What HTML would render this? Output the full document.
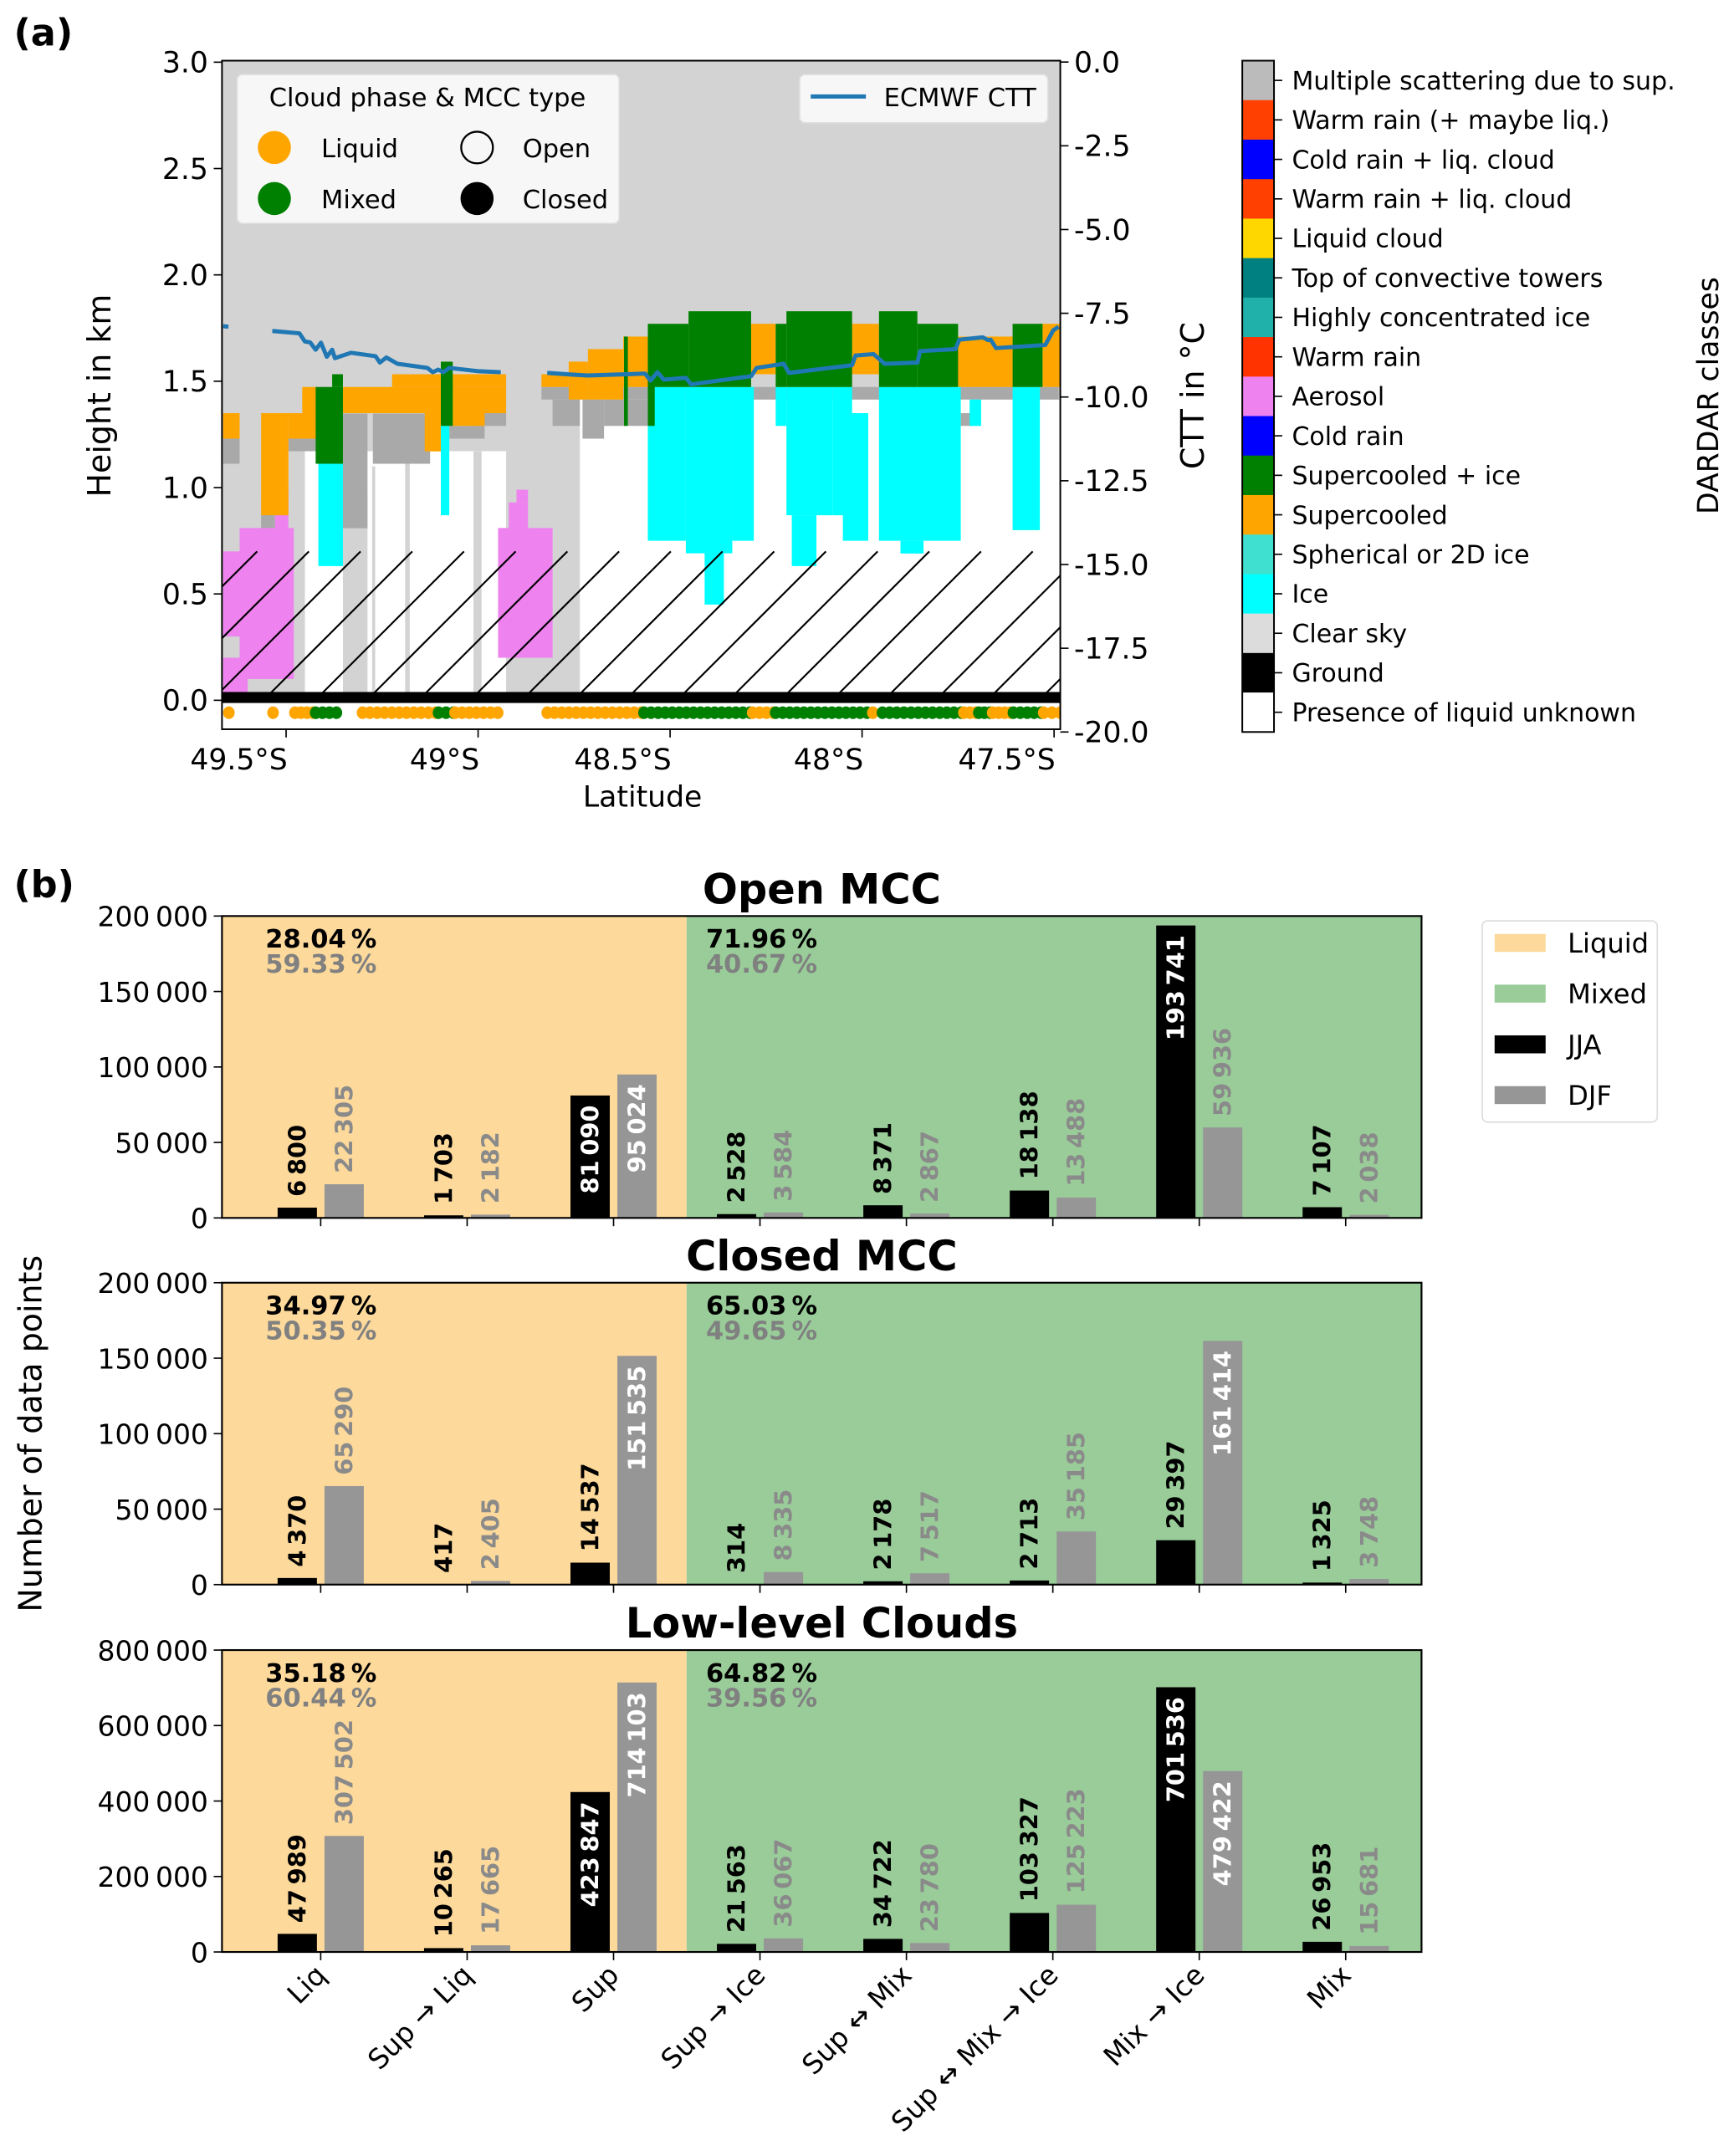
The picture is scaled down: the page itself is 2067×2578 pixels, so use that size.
<!DOCTYPE html>
<html><head><meta charset="utf-8">
<style>
html,body{margin:0;padding:0;background:#fff;}
svg{display:block;font-family:"DejaVu Sans","Liberation Sans",sans-serif;}
</style></head>
<body>
<svg id="fig" xmlns="http://www.w3.org/2000/svg" width="2067" height="2578" viewBox="0 0 1254 1564">
<rect x="0" y="0" width="1254" height="1564" fill="#fff"/>
<text x="10" y="33" font-size="27" font-weight="bold">(a)</text>
<text x="10" y="651" font-size="27" font-weight="bold">(b)</text>
<defs>
<clipPath id="clipA"><rect x="161" y="44" width="608" height="485"/></clipPath>
</defs>
<g id="panelA"></g>
<g id="panelB"></g>
</svg>
<script>
// ---------- Panel (a) data ----------
const latTicks = [49.5, 49.0, 48.5, 48.0, 47.5];
const latTickLabels = ["49.5°S", "49°S", "48.5°S", "48°S", "47.5°S"];
const heightTicks = [0.0, 0.5, 1.0, 1.5, 2.0, 2.5, 3.0];
const cttTicks = [0.0, -2.5, -5.0, -7.5, -10.0, -12.5, -15.0, -17.5, -20.0];
// rects: [lat0, lat1, h0, h1]
const whiteCells = [[49.451,48.927,0,1.171],[48.735,47.455,0,1.414]];
const clearCells = [[49.352,49.288,0,0.98],[49.276,49.268,0,1.1],[49.19,49.178,0,1.17],[49.012,48.991,0,1.17]];
const msCells = [[49.664,49.621,1.112,1.23],[49.565,49.529,0.809,0.934],[49.494,49.416,1.171,1.23],[49.352,49.288,0.809,1.348],[49.274,49.125,1.112,1.348],[49.075,48.983,1.23,1.29],[49.019,48.927,1.29,1.414],[48.835,47.488,1.414,1.473],[48.806,48.735,1.29,1.414],[48.728,48.672,1.23,1.414],[48.672,48.558,1.29,1.414],[47.743,47.71,1.29,1.35]];
const supCells = [[49.664,49.621,1.23,1.35],[49.565,49.494,0.87,1.35],[49.494,49.416,1.23,1.35],[49.458,49.416,1.35,1.473],[49.352,48.927,1.35,1.473],[49.224,48.927,1.473,1.533],[49.139,49.097,1.17,1.35],[49.075,48.983,1.29,1.35],[48.835,48.764,1.473,1.533],[48.764,48.714,1.414,1.592],[48.714,48.622,1.414,1.651],[48.622,48.544,1.473,1.71],[48.289,48.225,1.533,1.77],[48.026,47.956,1.533,1.77],[47.750,47.608,1.473,1.71],[47.530,47.455,1.473,1.77]];
const mixCells = [[49.423,49.352,1.112,1.473],[49.38,49.352,1.473,1.533],[49.097,49.066,1.29,1.592],[48.558,48.452,1.473,1.77],[48.452,48.289,1.473,1.829],[48.558,48.54,1.29,1.533],[48.225,48.197,1.473,1.77],[48.197,48.026,1.473,1.829],[47.956,47.856,1.473,1.829],[47.856,47.750,1.473,1.77],[47.608,47.530,1.473,1.77],[48.62,48.61,1.29,1.71]];
const iceCells = [[49.416,49.352,0.631,1.112],[49.097,49.075,0.87,1.29],[48.558,48.459,0.75,1.473],[48.459,48.338,0.691,1.473],[48.41,48.36,0.45,0.7],[48.338,48.282,0.75,1.473],[48.225,48.197,1.29,1.473],[48.197,48.076,0.87,1.473],[48.183,48.119,0.631,0.87],[48.076,48.026,0.87,1.473],[48.05,47.984,0.75,1.35],[47.956,47.743,0.75,1.473],[47.90,47.84,0.69,0.75],[47.72,47.69,1.29,1.414],[47.608,47.537,0.8,1.473]];
const aerosolCells = [[49.621,49.48,0.1,0.81],[49.664,49.621,0.3,0.7],[49.529,49.494,0.81,0.99],[49.664,49.6,0,0.2],[48.948,48.806,0.2,0.81],[48.92,48.870,0.81,0.93],[48.90,48.87,0.93,0.99]];
const cttLat1 = [49.664,49.650];
const cttVal1 = [-7.886,-7.90];
const cttLat2 = [49.536,49.465,49.451,49.437,49.423,49.409,49.394,49.380,49.373,49.331,49.267,49.256,49.239,49.210,49.132,49.118,49.104,49.090,49.075,48.998,48.941];
const cttVal2 = [-8.03,-8.10,-8.34,-8.37,-8.59,-8.38,-8.80,-8.59,-8.84,-8.68,-8.78,-8.97,-8.82,-9.01,-9.13,-9.26,-9.18,-9.26,-9.13,-9.23,-9.26];
const cttLat3 = [48.820,48.757,48.714,48.565,48.551,48.533,48.516,48.459,48.445,48.289,48.275,48.204,48.190,48.026,48.017,47.970,47.941,47.856,47.849,47.757,47.747,47.686,47.672,47.665,47.651,47.523,47.502,47.488];
const cttVal3 = [-9.28,-9.33,-9.36,-9.30,-9.51,-9.26,-9.48,-9.43,-9.62,-9.38,-9.13,-9.01,-9.28,-9.05,-8.76,-8.72,-9.01,-8.97,-8.63,-8.57,-8.29,-8.22,-8.30,-8.29,-8.54,-8.45,-8.01,-7.90];
// dot segments: [lat0, lat1, phase] phase 0 liquid, 1 mixed
const dotSegs = [[49.649,49.649,0],[49.534,49.534,0],[49.477,49.430,0],[49.423,49.369,1],[49.301,49.110,0],[49.103,49.064,1],[49.060,48.949,0],[48.820,48.575,0],[48.568,48.292,1],[48.285,48.231,0],[48.225,47.987,1],[47.972,47.972,0],[47.947,47.742,1],[47.735,47.703,0],[47.696,47.667,1],[47.660,47.613,0],[47.606,47.534,1],[47.527,47.484,0]];
const classNames = ["Multiple scattering due to sup.","Warm rain (+ maybe liq.)","Cold rain + liq. cloud","Warm rain + liq. cloud","Liquid cloud","Top of convective towers","Highly concentrated ice","Warm rain","Aerosol","Cold rain","Supercooled + ice","Supercooled","Spherical or 2D ice","Ice","Clear sky","Ground","Presence of liquid unknown"];
const classColors = ["#bbbbbb","#ff4000","#0000ff","#ff4000","#ffd700","#008080","#20b2aa","#ff3300","#ee82ee","#0000ff","#008000","#ffa500","#40e0d0","#00ffff","#dcdcdc","#000000","#ffffff"];

// ---------- Panel (b) data ----------
const categories = ["Liq","Sup → Liq","Sup","Sup → Ice","Sup ↔ Mix","Sup ↔ Mix → Ice","Mix → Ice","Mix"];
const openJJA = [6800,1703,81090,2528,8371,18138,193741,7107];
const openDJF = [22305,2182,95024,3584,2867,13488,59936,2038];
const closedJJA = [4370,417,14537,314,2178,2713,29397,1325];
const closedDJF = [65290,2405,151535,8335,7517,35185,161414,3748];
const lowJJA = [47989,10265,423847,21563,34722,103327,701536,26953];
const lowDJF = [307502,17665,714103,36067,23780,125223,479422,15681];
const openPct = ["28.04\u2009%","59.33\u2009%","71.96\u2009%","40.67\u2009%"];
const closedPct = ["34.97\u2009%","50.35\u2009%","65.03\u2009%","49.65\u2009%"];
const lowPct = ["35.18\u2009%","60.44\u2009%","64.82\u2009%","39.56\u2009%"];
const ticksSmall = [0,50000,100000,150000,200000];
const ticksLow = [0,200000,400000,600000,800000];

const NS="http://www.w3.org/2000/svg";
function el(tag, attrs, parent){const e=document.createElementNS(NS,tag);for(const k in attrs)e.setAttribute(k,attrs[k]);parent.appendChild(e);return e;}
function fmt(v){return String(v).replace(/\B(?=(\d{3})+(?!\d))/g,"\u2009");}

// ---- Panel A ----
const A=document.getElementById('panelA');
const ax={l:161,r:769,t:44,b:529};
function xLat(lat){return 207.5+(49.5-lat)*278.5;}
function yH(h){return 508-h*154.3;}
function yC(c){return 45+(-c)*24.3;}
el('rect',{x:ax.l,y:ax.t,width:ax.r-ax.l,height:ax.b-ax.t,fill:'#d3d3d3'},A);
const cg=el('g',{'clip-path':'url(#clipA)'},A);


function drawCells(arr,color,name){
  arr.forEach(c=>{
    const x0=xLat(c[0]),x1=xLat(c[1]);
    const r=el('rect',{x:Math.min(x0,x1),y:yH(c[3]),width:Math.abs(x1-x0),height:yH(c[2])-yH(c[3]),fill:color},cg);
    
    
  });
}
drawCells(whiteCells,'#ffffff','liquid-unknown-cell');
drawCells(clearCells,'#d3d3d3','clear-sky-cell');
drawCells(msCells,'#a9a9a9','multiple-scattering-cell');
drawCells(aerosolCells,'#ee82ee','aerosol-cell');
drawCells(supCells,'#ffa500','supercooled-cell');
drawCells(iceCells,'#00ffff','ice-cell');
drawCells(mixCells,'#008000','supercooled-ice-cell');
// hatching
const hatchTop=yH(0.70), hatchBot=yH(0);
for(let x=ax.l-120;x<ax.r+20;x+=37.5){
  const l=el('line',{x1:x,y1:hatchBot,x2:x+(hatchBot-hatchTop),y2:hatchTop,stroke:'#000','stroke-width':1.3},cg);
  
  
}
// ground
const gr=el('rect',{x:ax.l,y:yH(0.039),width:ax.r-ax.l,height:yH(-0.013)-yH(0.039),fill:'#000'},cg);


el('rect',{x:ax.l,y:yH(-0.013),width:ax.r-ax.l,height:ax.b-yH(-0.013),fill:'#fff'},cg);
// dots
dotSegs.forEach(s=>{
  const x0=xLat(s[0]),x1=xLat(s[1]);
  const n=Math.max(1,Math.round((x1-x0)/5.2)+1);
  for(let i=0;i<n;i++){
    const cx=n==1?x0:x0+(x1-x0)*i/(n-1);
    const d=el('ellipse',{cx:cx,cy:517,rx:4.2,ry:4.6,fill:s[2]?'#008000':'#ffa500'},cg);
    
    
  }
});
// CTT line
[[cttLat1,cttVal1],[cttLat2,cttVal2],[cttLat3,cttVal3]].forEach(p=>{
  const pts=p[0].map((la,i)=>xLat(la).toFixed(1)+','+yC(p[1][i]).toFixed(1)).join(' ');
  const pl=el('polyline',{points:pts,fill:'none',stroke:'#1f77b4','stroke-width':3,'stroke-linejoin':'round'},cg);
  
  
});
el('rect',{x:ax.l,y:ax.t,width:ax.r-ax.l,height:ax.b-ax.t,fill:'none',stroke:'#000','stroke-width':1.2},A);
heightTicks.forEach(h=>{
  const y=yH(h);
  el('line',{x1:ax.l-6,y1:y,x2:ax.l,y2:y,stroke:'#000','stroke-width':1},A);
  const t=el('text',{x:ax.l-10,y:y+7.5,'font-size':21,'text-anchor':'end'},A);t.textContent=h.toFixed(1);
  
  
});
cttTicks.forEach(c=>{
  const y=yC(c);
  el('line',{x1:ax.r,y1:y,x2:ax.r+6,y2:y,stroke:'#000','stroke-width':1},A);
  const t=el('text',{x:ax.r+10,y:y+7.5,'font-size':21},A);t.textContent=(c===0?'0.0':c.toFixed(1));
  
  
});
latTicks.forEach((la,i)=>{
  const x=xLat(la);
  el('line',{x1:x,y1:ax.b,x2:x,y2:ax.b+6,stroke:'#000','stroke-width':1},A);
  const t=el('text',{x:x+1,y:ax.b+29,'font-size':21,'text-anchor':'end'},A);t.textContent=latTickLabels[i];
  
  
});
function txt(parent,x,y,s,attrs,name){const t=el('text',Object.assign({x:x,y:y},attrs),parent);t.textContent=s;return t;}
txt(A,466,585,'Latitude',{'font-size':21,'text-anchor':'middle'},'x-axis-title');
txt(A,0,0,'Height in km',{'font-size':23,'text-anchor':'middle',transform:'translate(80,287) rotate(-90)'},'y-axis-title');
txt(A,0,0,'CTT in °C',{'font-size':23,'text-anchor':'middle',transform:'translate(873,287) rotate(-90)'},'ctt-axis-title');
const lg=el('g',{},A);


el('rect',{x:172,y:54,width:277,height:108,rx:4,fill:'#f7f7f7',stroke:'#e0e0e0','stroke-width':1},lg);
txt(lg,310,77,'Cloud phase & MCC type',{'font-size':18.5,'text-anchor':'middle'},'legend-title');
el('ellipse',{cx:199,cy:107,rx:12,ry:12,fill:'#ffa500'},lg);
el('ellipse',{cx:199,cy:144,rx:12,ry:12,fill:'#008000'},lg);
el('ellipse',{cx:346,cy:107,rx:11.5,ry:11.5,fill:'none',stroke:'#000','stroke-width':1.4},lg);
el('ellipse',{cx:346,cy:144,rx:12,ry:12,fill:'#000'},lg);
txt(lg,233,114,'Liquid',{'font-size':18.5},'legend-liquid');
txt(lg,233,151,'Mixed',{'font-size':18.5},'legend-mixed');
txt(lg,379,114,'Open',{'font-size':18.5},'legend-open');
txt(lg,379,151,'Closed',{'font-size':18.5},'legend-closed');
const lg2=el('g',{},A);


el('rect',{x:580,y:54,width:180,height:35,rx:4,fill:'#f7f7f7',stroke:'#e0e0e0','stroke-width':1},lg2);
el('line',{x1:588,y1:70,x2:628,y2:70,stroke:'#1f77b4','stroke-width':3},lg2);
txt(lg2,641,77,'ECMWF CTT',{'font-size':18.5},'legend-ecmwf-ctt');
const cb=el('g',{},A);


const cbT=44,cbB=531,cbH=(cbB-cbT)/classNames.length;
classNames.forEach((n,i)=>{
  const r=el('rect',{x:901,y:cbT+i*cbH,width:23,height:cbH+0.3,fill:classColors[i]},cb);
  
  
  const y=cbT+(i+0.5)*cbH;
  el('line',{x1:924,y1:y,x2:930,y2:y,stroke:'#000','stroke-width':1},cb);
  txt(cb,937,y+6.5,n,{'font-size':18.2},'colorbar-label');
});
el('rect',{x:901,y:cbT,width:23,height:cbB-cbT,fill:'none',stroke:'#000','stroke-width':1.2},cb);
txt(cb,0,0,'DARDAR classes',{'font-size':21,'text-anchor':'middle',transform:'translate(1246,287) rotate(-90)'},'colorbar-title');

// ---- Panel B ----
const B=document.getElementById('panelB');
const bx={l:161,r:1031,split:498};
const catC=i=>232.6+106.2*i;
const subplots=[
 {top:664.5,bot:883.5,max:200000,ticks:ticksSmall,jja:openJJA,djf:openDJF,pct:openPct,title:'Open MCC',name:'open-mcc'},
 {top:930.5,bot:1149.5,max:200000,ticks:ticksSmall,jja:closedJJA,djf:closedDJF,pct:closedPct,title:'Closed MCC',name:'closed-mcc'},
 {top:1197,bot:1416,max:800000,ticks:ticksLow,jja:lowJJA,djf:lowDJF,pct:lowPct,title:'Low-level Clouds',name:'low-level-clouds'}
];
subplots.forEach((sp,si)=>{
  const g=el('g',{},B);
  
  
  const yv=v=>sp.bot-(v/sp.max)*(sp.bot-sp.top);
  el('rect',{x:bx.l,y:sp.top,width:bx.split-bx.l,height:sp.bot-sp.top,fill:'#fdd99b'},g);
  el('rect',{x:bx.split,y:sp.top,width:bx.r-bx.split,height:sp.bot-sp.top,fill:'#99cc99'},g);
  const bw=28.5;
  [[sp.jja,'#000000',-17,'jja'],[sp.djf,'#969696',17,'djf']].forEach(ser=>{
    ser[0].forEach((v,i)=>{
      const cx=catC(i)+ser[2];
      const top=yv(v);
      const r=el('rect',{x:cx-bw/2,y:top,width:bw,height:sp.bot-top,fill:ser[1]},g);
      
      
      const t=el('text',{'font-size':17.5,'font-weight':'bold','dominant-baseline':'central'},g);
      t.textContent=fmt(v);
      
      
      const len=t.getComputedTextLength();
      const h=sp.bot-top;
      if(h>len+16){
        t.setAttribute('text-anchor','end');
        t.setAttribute('fill','#fff');
        t.setAttribute('transform','translate('+cx+','+(top+7)+') rotate(-90)');
      }else{
        t.setAttribute('text-anchor','start');
        t.setAttribute('fill',ser[3]==='jja'?'#000':'#8a8a8a');
        t.setAttribute('transform','translate('+cx+','+(top-8)+') rotate(-90)');
      }
    });
  });
  el('rect',{x:bx.l,y:sp.top,width:bx.r-bx.l,height:sp.bot-sp.top,fill:'none',stroke:'#000','stroke-width':1.3},g);
  sp.ticks.forEach(v=>{
    const y=yv(v);
    el('line',{x1:bx.l-6,y1:y,x2:bx.l,y2:y,stroke:'#000','stroke-width':1},g);
    txt(g,bx.l-10,y+7.5,fmt(v),{'font-size':20,'text-anchor':'end'},'y-tick-label');
  });
  categories.forEach((c,i)=>{
    el('line',{x1:catC(i),y1:sp.bot,x2:catC(i),y2:sp.bot+6,stroke:'#000','stroke-width':1},g);
  });
  txt(g,(bx.l+bx.r)/2,sp.top-9,sp.title,{'font-size':30,'font-weight':'bold','text-anchor':'middle'},'subplot-title');
  txt(g,192.5,sp.top+23,sp.pct[0],{'font-size':18.5,'font-weight':'bold',fill:'#000'},'liquid-pct-jja');
  txt(g,192.5,sp.top+41,sp.pct[1],{'font-size':18.5,'font-weight':'bold',fill:'#808080'},'liquid-pct-djf');
  txt(g,512,sp.top+23,sp.pct[2],{'font-size':18.5,'font-weight':'bold',fill:'#000'},'mixed-pct-jja');
  txt(g,512,sp.top+41,sp.pct[3],{'font-size':18.5,'font-weight':'bold',fill:'#808080'},'mixed-pct-djf');
});
categories.forEach((c,i)=>{
  txt(B,0,0,c,{'font-size':20,'text-anchor':'end',transform:'translate('+(catC(i)+5)+',1434) rotate(-45)'},'category-label');
});
txt(B,0,0,'Number of data points',{'font-size':23,'text-anchor':'middle',transform:'translate(30,1040) rotate(-90)'},'y-axis-title-b');
const lb=el('g',{},B);


el('rect',{x:1075,y:668,width:127,height:146,rx:4,fill:'#fff',stroke:'#dcdcdc','stroke-width':1},lb);
[['Liquid','#fdd99b'],['Mixed','#99cc99'],['JJA','#000'],['DJF','#969696']].forEach((e,i)=>{
  const y=684+i*36.8;
  el('rect',{x:1084,y:y-6.5,width:37,height:13,fill:e[1]},lb);
  txt(lb,1137,y+7,e[0],{'font-size':19.5},'legend-entry');
});
</script>
</body></html>
